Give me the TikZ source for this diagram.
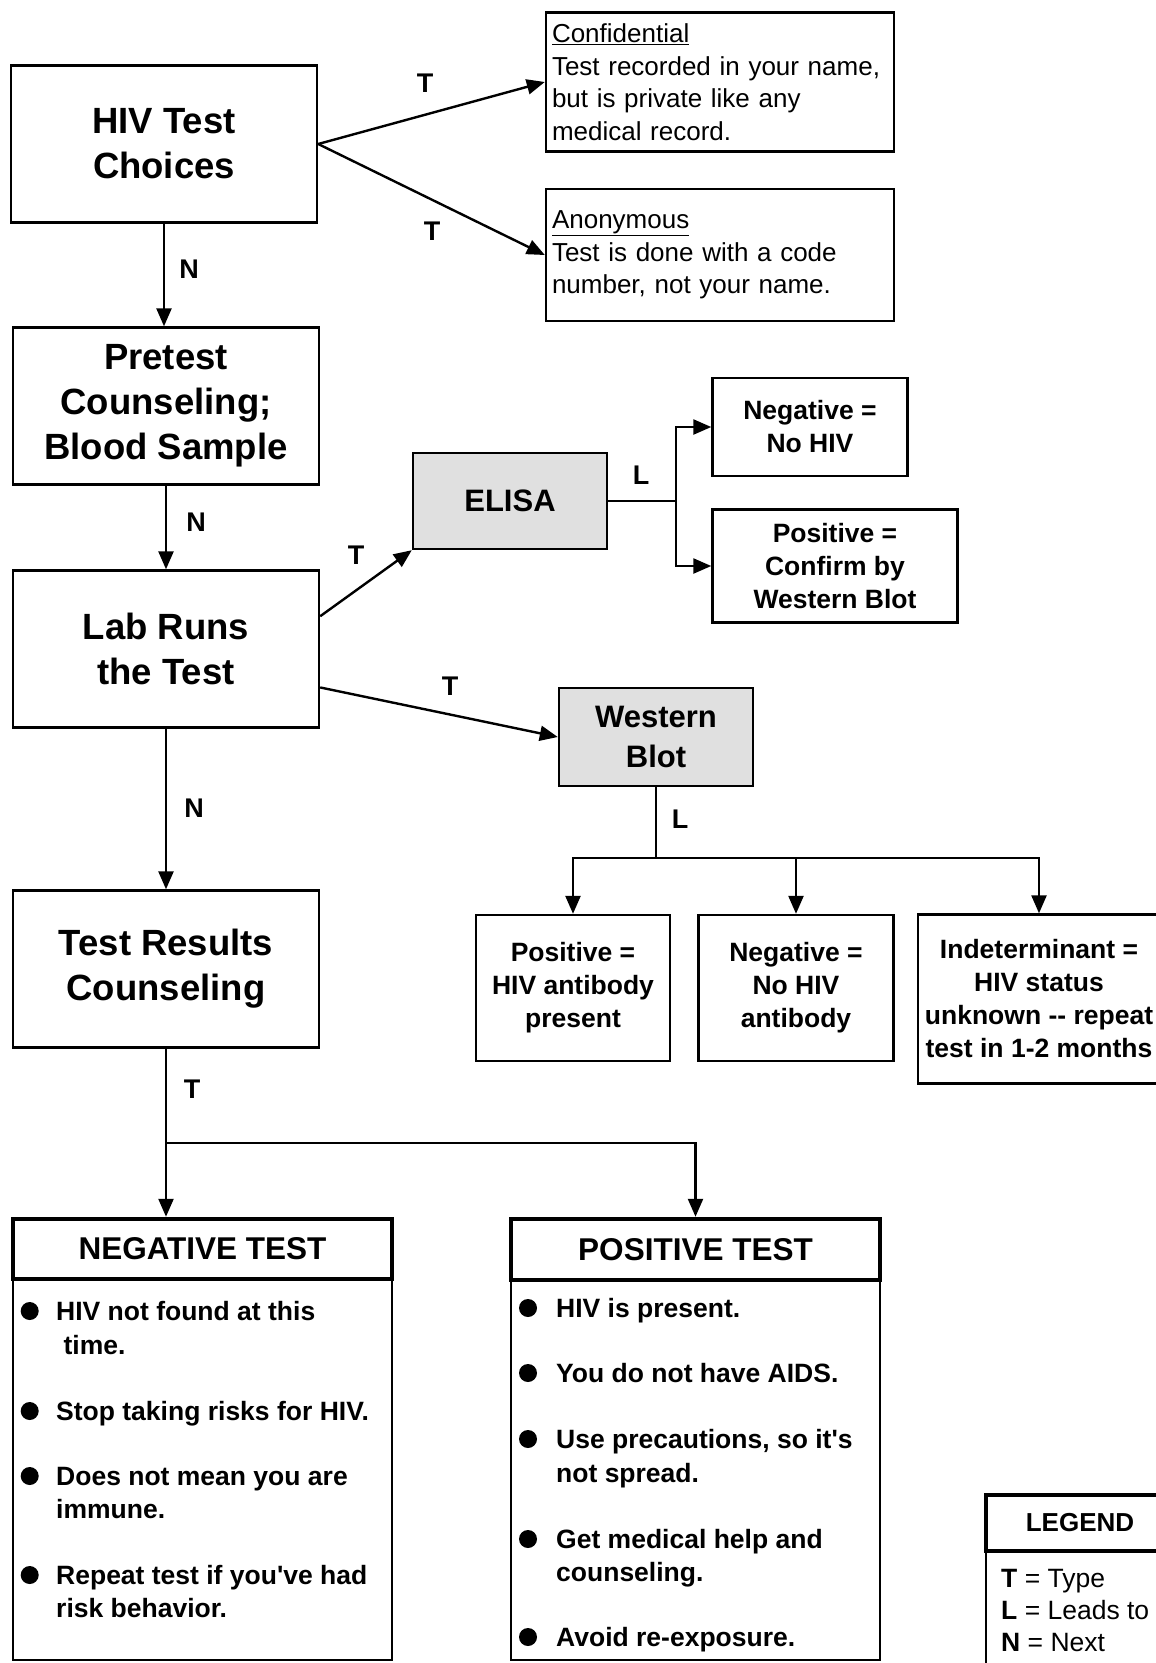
\documentclass[tikz,border=0pt]{standalone}
\usepackage{fontspec}
\setmainfont{Liberation Sans}
\usetikzlibrary{arrows.meta}

\begin{document}
\begin{tikzpicture}[x=1pt,y=-1pt,>={Triangle[length=18pt,width=15pt]},line width=2.4pt,
    box/.style={draw,line width=2.4pt,inner sep=0pt,align=center},
    title/.style={box,minimum width=306pt,minimum height=157pt,font=\bfseries\fontsize{36.5}{45}\selectfont},
    small/.style={box,font=\bfseries\fontsize{26.5}{33}\selectfont},
    shade/.style={box,fill=black!12,minimum width=194pt,font=\bfseries\fontsize{31}{40}\selectfont},
    info/.style={box,align=left,inner xsep=6pt,minimum width=348pt,text width=336pt,font=\fontsize{26}{32.5}\selectfont},
    lab/.style={inner sep=0pt,font=\bfseries\fontsize{27}{27}\selectfont},
    head/.style={draw,line width=4.5pt,inner sep=0pt,font=\bfseries\fontsize{31.5}{35}\selectfont},
    item/.style={anchor=base west,inner sep=0pt,font=\bfseries\fontsize{26.5}{33}\selectfont}]
    \useasboundingbox (0,0) rectangle (1156,1663);
    \clip (0,0) rectangle (1156,1663);

    % main column
    \node[title] (choices) at (164,144) {HIV Test\\Choices};
    \node[title] (pretest) at (166,406) {Pretest\\Counseling;\\Blood Sample};
    \node[title] (lab) at (166,649) {Lab Runs\\the Test};
    \node[title] (results) at (166,969) {Test Results\\Counseling};

    % test choices
    \node[info,minimum height=139pt] (conf) at (720,82) {\underline{Confidential}\\Test recorded in your name,\\but is private like any\\medical record.};
    \node[info,minimum height=132pt] (anon) at (720,255) {\underline{Anonymous}\\Test is done with a code\\number, not your name.};

    % lab tests
    \node[shade,minimum height=96pt] (elisa) at (510,501) {ELISA};
    \node[small,minimum width=195pt,minimum height=98pt] (negel) at (810,427) {Negative =\\No HIV};
    \node[small,minimum width=245pt,minimum height=113pt] (posel) at (835,566) {Positive =\\Confirm by\\Western Blot};
    \node[shade,minimum height=98pt] (wb) at (656,737) {Western\\Blot};
    \node[small,minimum width=194pt,minimum height=146pt] (posab) at (573,988) {Positive =\\HIV antibody\\present};
    \node[small,minimum width=195pt,minimum height=146pt] (negab) at (796,988) {Negative =\\No HIV\\antibody};
    \node[small,minimum width=242pt,minimum height=169pt] (indet) at (1039,999) {Indeterminant =\\HIV status\\unknown -{}- repeat\\test in 1-2 months};

    % results
    \draw[line width=2pt] (13,1279) rectangle (392,1660);
    \draw[line width=2pt] (511,1280) rectangle (880,1660);
    \draw[line width=2pt] (986,1551) rectangle (1174,1690);
    \node[head,minimum width=379pt,minimum height=60pt] (neghead) at (202.5,1249) {NEGATIVE TEST};
    \node[head,minimum width=369pt,minimum height=61pt] (poshead) at (695.5,1249.5) {POSITIVE TEST};
    \node[head,minimum width=188pt,minimum height=56pt,font=\bfseries\fontsize{26}{30}\selectfont] (leghead) at (1080,1523) {LEGEND};

    \foreach \y/\txt in {1320/HIV not found at this,1354/\ time.,1420/Stop taking risks for HIV.,
        1485/Does not mean you are,1518/immune.,1584/Repeat test if you\textquotesingle ve had,1617/risk behavior.}{
        \node[item] at (55,\y) {\txt};
    }
    \foreach \y in {1311,1411,1476,1575}{
        \fill (29.7,\y) circle (9);
    }
    \foreach \y/\txt in {1317/HIV is present.,1382/You do not have AIDS.,1448/{Use precautions, so it\textquotesingle s},
        1482/not spread.,1548/Get medical help and,1581/counseling.,1646/Avoid re-exposure.}{
        \node[item] at (555,\y) {\txt};
    }
    \foreach \y in {1308,1373,1439,1539,1637}{
        \fill (528,\y) circle (9);
    }
    \node[item,font=\fontsize{26.5}{33}\selectfont] (legt) at (1000,1587) {\textbf{T} = Type};
    \node[item,font=\fontsize{26.5}{33}\selectfont] (legl) at (1000,1619) {\textbf{L} = Leads to};
    \node[item,font=\fontsize{26.5}{33}\selectfont] (legn) at (1000,1651) {\textbf{N} = Next};

    % connectors
    \draw[->] (choices.east) -- (conf.west);
    \draw[->] (choices.east) -- (anon.west);
    \draw[->] (choices.south) -- (choices.south |- pretest.north);
    \draw[->] (pretest.south) -- (lab.north);
    \draw[->] (lab.12) -- (elisa.south west);
    \draw[->] (lab.-14) -- (wb.west);
    \draw[->] (lab.south) -- (results.north);
    \draw[->] (elisa.east) -- ++(68,0) |- (negel.west);
    \draw[->] (elisa.east) -- ++(68,0) |- (posel.west);
    \draw[->] (wb.south) -- ++(0,71) -| (posab.north);
    \draw[->] (wb.south) -- ++(0,71) -| (negab.north);
    \draw[->] (wb.south) -- ++(0,71) -| (indet.north);
    \draw[->] (results.south) -- (results.south |- neghead.north);
    \draw[->] (results.south) -- ++(0,94) -| (poshead.north);

    \node[lab] (t1) at (425,83) {T};
    \node[lab] (t2) at (432,231) {T};
    \node[lab] (n1) at (189,269) {N};
    \node[lab] (n2) at (196,522) {N};
    \node[lab] (t3) at (356,555) {T};
    \node[lab] (l1) at (641,475) {L};
    \node[lab] (t4) at (450,686) {T};
    \node[lab] (l2) at (680,819) {L};
    \node[lab] (n3) at (194,808) {N};
    \node[lab] (t5) at (192,1089) {T};
\end{tikzpicture}
\end{document}
